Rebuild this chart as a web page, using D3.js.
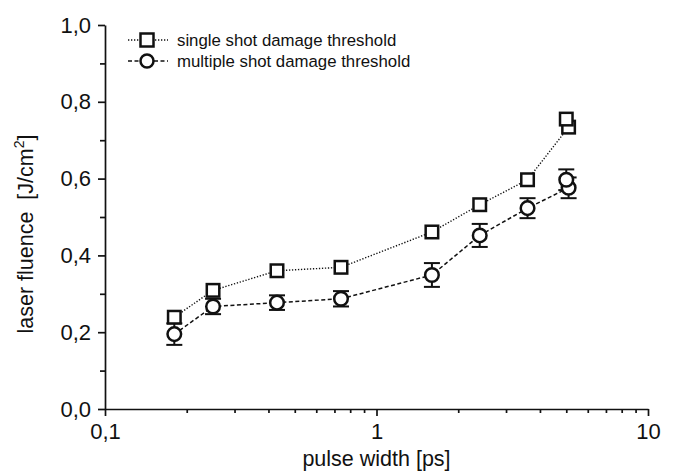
<!doctype html>
<html lang="">

<head>
    <title>Damage threshold vs pulse width</title>
    <meta charset="utf-8">
    <style>
        body { margin: 0; background: #fff; }
        text { font-family: "Liberation Sans", Arial, Helvetica, sans-serif; fill: #111; }
    </style>
</head>

<body>
    <div id="chart"></div>

    <script src="https://cdnjs.cloudflare.com/ajax/libs/d3/7.8.5/d3.min.js"></script>

    <script>
        // single shot (squares)
        const singleWidth = [0.18, 0.25, 0.43, 0.74, 1.6, 2.4, 3.6, 5.1, 5.0];
        const singleFluence = [0.239, 0.309, 0.360, 0.369, 0.461, 0.532, 0.597, 0.734, 0.755];

        // multiple shot (circles) with error
        const multiWidth = [0.18, 0.25, 0.43, 0.74, 1.6, 2.4, 3.6, 5.1, 5.0];
        const multiFluence = [0.195, 0.267, 0.277, 0.287, 0.349, 0.452, 0.523, 0.576, 0.597];
        const multiError = [0.028, 0.020, 0.019, 0.020, 0.031, 0.030, 0.026, 0.027, 0.027];

        const xMajor = [0.1, 1, 10];
        const xMinor = [0.2, 0.3, 0.4, 0.5, 0.6, 0.7, 0.8, 0.9, 2, 3, 4, 5, 6, 7, 8, 9];
        const yMajor = [0, 0.2, 0.4, 0.6, 0.8, 1.0];
        const yMinor = [0.1, 0.3, 0.5, 0.7, 0.9];

        const legendLabels = ["single shot damage threshold", "multiple shot damage threshold"];

        const width = 675;
        const height = 473;
        const ink = "#111";

        const svg = d3.select("#chart").append("svg").attr("width", width).attr("height", height);

        const x = d3.scaleLog().domain([0.1, 10]).range([105, 648]);
        const y = d3.scaleLinear().domain([0, 1]).range([409, 25]);

        const comma = s => s.replace(".", ",");

        // axes
        svg.append("g").attr("transform", `translate(0,${y(0)})`)
            .call(d3.axisBottom(x).tickValues(xMajor).tickSize(7).tickSizeOuter(0).tickPadding(7)
                .tickFormat(d => comma(d3.format("~g")(d))));
        svg.append("g").attr("transform", `translate(0,${y(0)})`)
            .call(d3.axisBottom(x).tickValues(xMinor).tickSize(4).tickSizeOuter(0).tickFormat(""))
            .select(".domain").remove();

        svg.append("g").attr("transform", `translate(${x(0.1)},0)`)
            .call(d3.axisLeft(y).tickValues(yMajor).tickSize(7).tickSizeOuter(0).tickPadding(7)
                .tickFormat(d => comma(d3.format(".1f")(d))));
        svg.append("g").attr("transform", `translate(${x(0.1)},0)`)
            .call(d3.axisLeft(y).tickValues(yMinor).tickSize(5).tickSizeOuter(0).tickFormat(""))
            .select(".domain").remove();

        svg.selectAll(".domain, .tick line").attr("stroke", ink).attr("stroke-width", 1.7);
        svg.selectAll(".tick text").attr("font-size", 22).attr("fill", ink)
            .style("font-family", "'Liberation Sans', Arial, sans-serif");

        // axis titles
        svg.append("text")
            .attr("x", (x(0.1) + x(10)) / 2)
            .attr("y", 466)
            .attr("text-anchor", "middle")
            .attr("font-size", 21.5)
            .text("pulse width [ps]");

        const yTitle = svg.append("text")
            .attr("transform", "translate(33,234) rotate(-90)")
            .attr("text-anchor", "middle")
            .attr("font-size", 21.5)
            .attr("xml:space", "preserve");
        yTitle.append("tspan").text("laser fluence  [J/cm");
        yTitle.append("tspan").attr("font-size", 14).attr("dy", -9).text("2");
        yTitle.append("tspan").attr("dy", 9).text("]");

        // lines
        const singlePts = singleWidth.map((w, i) => [w, singleFluence[i]]);
        const multiPts = multiWidth.map((w, i) => [w, multiFluence[i], multiError[i]]);

        const line = d3.line().x(d => x(d[0])).y(d => y(d[1]));

        svg.append("path").datum(singlePts)
            .attr("d", line).attr("fill", "none")
            .attr("stroke", ink).attr("stroke-width", 1.4).attr("stroke-dasharray", "1.3,1.7");

        svg.append("path").datum(multiPts)
            .attr("d", line).attr("fill", "none")
            .attr("stroke", ink).attr("stroke-width", 1.5).attr("stroke-dasharray", "4,2.5");

        // error bars
        const err = svg.append("g").attr("stroke", ink).attr("stroke-width", 2);
        multiPts.forEach(d => {
            const cx = x(d[0]);
            const y1 = y(d[1] + d[2]);
            const y2 = y(d[1] - d[2]);
            err.append("line").attr("x1", cx).attr("x2", cx).attr("y1", y1).attr("y2", y2);
            err.append("line").attr("x1", cx - 8).attr("x2", cx + 8).attr("y1", y1).attr("y2", y1);
            err.append("line").attr("x1", cx - 8).attr("x2", cx + 8).attr("y1", y2).attr("y2", y2);
        });

        // markers
        const side = 12.5;
        svg.append("g").selectAll("circle")
            .data(multiPts)
            .join("circle")
            .attr("cx", d => x(d[0]))
            .attr("cy", d => y(d[1]))
            .attr("r", 6.8)
            .attr("fill", "#fff")
            .attr("stroke", ink)
            .attr("stroke-width", 2.5);

        svg.append("g").selectAll("rect")
            .data(singlePts)
            .join("rect")
            .attr("x", d => x(d[0]) - side / 2)
            .attr("y", d => y(d[1]) - side / 2)
            .attr("width", side)
            .attr("height", side)
            .attr("fill", "#fff")
            .attr("stroke", ink)
            .attr("stroke-width", 2.5);

        // legend
        const legend = svg.append("g");
        const rows = [40, 61];
        legend.append("line").attr("x1", 128).attr("x2", 168).attr("y1", rows[0]).attr("y2", rows[0])
            .attr("stroke", ink).attr("stroke-width", 1.4).attr("stroke-dasharray", "1.3,1.7");
        legend.append("rect").attr("x", 147 - 6.5).attr("y", rows[0] - 6.5).attr("width", 13).attr("height", 13)
            .attr("fill", "#fff").attr("stroke", ink).attr("stroke-width", 2.5);
        legend.append("line").attr("x1", 128).attr("x2", 168).attr("y1", rows[1]).attr("y2", rows[1])
            .attr("stroke", ink).attr("stroke-width", 1.5).attr("stroke-dasharray", "4,2.5");
        legend.append("circle").attr("cx", 147).attr("cy", rows[1]).attr("r", 6.5)
            .attr("fill", "#fff").attr("stroke", ink).attr("stroke-width", 2.5);

        legend.selectAll("text")
            .data(legendLabels)
            .join("text")
            .attr("x", 177)
            .attr("y", (d, i) => rows[i])
            .attr("dy", "0.35em")
            .attr("font-size", 16.8)
            .text(d => d);
    </script>
</body>

</html>
